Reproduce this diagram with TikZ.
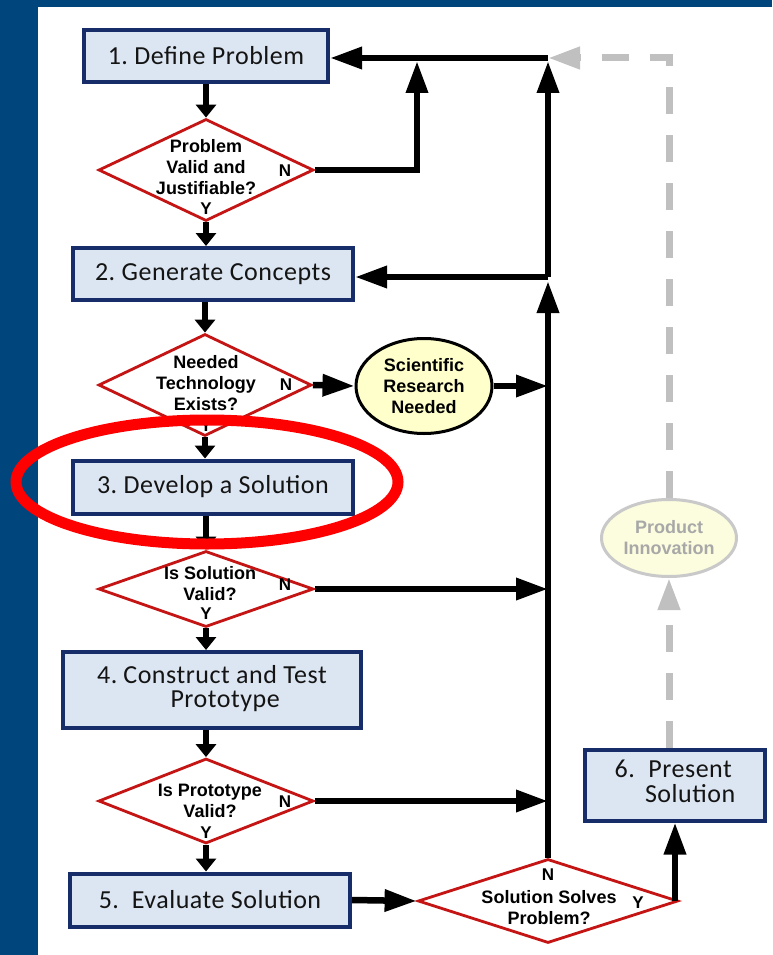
\documentclass[tikz,border=0pt]{standalone}
\usepackage{fontspec}
\setmainfont{Liberation Sans}
\newfontfamily\boxfont[LetterSpace=2]{Carlito}
\usetikzlibrary{shapes.geometric,arrows.meta}

\definecolor{slideblue}{RGB}{0,69,124}
\definecolor{boxfill}{RGB}{220,230,242}
\definecolor{boxline}{RGB}{22,45,105}
\definecolor{dred}{RGB}{196,20,20}
\definecolor{pale}{RGB}{255,255,204}
\definecolor{palefaded}{RGB}{252,252,222}
\definecolor{ghostgray}{RGB}{192,192,192}
\definecolor{ghosttext}{RGB}{168,168,168}

\tikzset{
  stepbox/.style={draw=boxline, fill=boxfill, line width=4pt, inner sep=0pt,
    font=\boxfont\fontsize{26}{24}\selectfont, text=black!92},
  decide/.style={diamond, draw=dred, fill=white, line width=2.8pt, inner sep=0pt},
  dtext/.style={align=center, inner sep=0pt, font=\bfseries\fontsize{18}{21}\selectfont},
  yn/.style={inner sep=0pt, font=\bfseries\fontsize{17}{20}\selectfont},
  flow/.style={line width=6.5pt, -{Triangle[length=32pt,width=21pt]}},
  flowdown/.style={line width=6.5pt, -{Triangle[length=13pt,width=20pt]}},
  ghost/.style={ghostgray, line width=7pt, dash pattern=on 27pt off 21pt,
    -{Triangle[length=32pt,width=21pt]}},
}

\begin{document}
\begin{tikzpicture}[x=1pt,y=-1pt]
  % slide background
  \fill[slideblue] (0,0) rectangle (772,955);
  \fill[white] (38,7) rectangle (772,955);
  \useasboundingbox (0,0) rectangle (772,955);

  % steps
  \node[stepbox, minimum width=244, minimum height=52] (b1) at (206,56) {1.\ Define Problem};
  \node[stepbox, minimum width=280, minimum height=52] (b2) at (213,274) {2.\ Generate Concepts};
  \node[stepbox, minimum width=280, minimum height=53] (b3) at (213,487) {3.\ Develop a Solution};
  \node[stepbox, minimum width=298, minimum height=76] (b4) at (212,690)
    {\begin{tabular}{@{}l@{}c@{}}4.\kern6pt & Construct and Test\\ & Prototype\end{tabular}};
  \node[stepbox, minimum width=280, minimum height=53] (b5) at (210,900) {5.\ \ Evaluate Solution};
  \node[stepbox, minimum width=180, minimum height=71] (b6) at (675,785)
    {\begin{tabular}{@{}l@{}c@{}}6.\kern10pt & Present\\ & Solution\end{tabular}};

  % decisions
  \node[decide, minimum width=215, minimum height=102] (d1) at (206,170) {};
  \node[decide, minimum width=213, minimum height=102] (d2) at (205,385) {};
  \node[decide, minimum width=215, minimum height=76] (d3) at (206,589) {};
  \node[decide, minimum width=215, minimum height=85] (d4) at (206,801) {};
  \node[decide, minimum width=260, minimum height=84] (d5) at (548,901) {};

  \node[dtext] (d1t) at (206,167) {Problem\\Valid and\\Justifiable?};
  \node[dtext] (d2t) at (206,383) {Needed\\Technology\\Exists?};
  \node[dtext] (d3t) at (210,584) {Is Solution\\Valid?};
  \node[dtext] (d4t) at (210,801) {Is Prototype\\Valid?};
  \node[dtext] (d5t) at (549,908) {Solution Solves\\Problem?};

  % N / Y marks
  \node[yn] (d1n) at (285,171) {N};
  \node[yn] (d1y) at (206,209) {Y};
  \node[yn] (d2n) at (286,385) {N};
  \node[yn] (d2y) at (206,426) {Y};
  \node[yn] (d3n) at (285,585) {N};
  \node[yn] (d3y) at (206,614) {Y};
  \node[yn] (d4n) at (285,802) {N};
  \node[yn] (d4y) at (206,833) {Y};
  \node[yn] (d5n) at (548,875) {N};
  \node[yn] (d5y) at (638,903) {Y};

  % ovals
  \node[ellipse, draw=black, fill=pale, line width=3pt, minimum width=136, minimum height=95,
    inner sep=0pt, align=center, font=\bfseries\fontsize{18}{21}\selectfont] (sci) at (424,386)
    {Scientific\\Research\\Needed};
  \node[ellipse, draw=ghostgray!85, fill=palefaded, line width=3pt, minimum width=135, minimum height=77,
    inner sep=0pt, align=center, text=ghosttext, font=\bfseries\fontsize{18}{21}\selectfont] (pi) at (669,538)
    {Product\\Innovation};

  \coordinate (top) at (548,58);
  \coordinate (mid) at (548,277);
  \coordinate (jn) at (417,61);

  % faded path
  \draw[ghost] (pi |- b6.north) -- (pi.south);
  \draw[ghost] (pi.north) |- (top);

  % main column
  \draw[flowdown] (b1.south -| d1.north) -- (d1.north);
  \draw[flowdown] (d1.south) -- (d1.south |- b2.north);
  \draw[flowdown] (b2.south -| d2.north) -- (d2.north);
  \draw[flowdown] (d2.south) -- (d2.south |- b3.north);
  \draw[flowdown] (b3.south -| d3.north) -- (d3.north);
  \draw[flowdown] (d3.south) -- (d3.south |- b4.north);
  \draw[flowdown] (b4.south -| d4.north) -- (d4.north);
  \draw[flowdown] (d4.south) -- (d4.south |- b5.north);

  % loops back
  \draw[flow] (d1.east) -| (jn);
  \draw[flow] (top) -- (top -| b1.east);
  \draw[flow] (mid) -- ([yshift=-3pt]top);
  \draw[flow] (mid) -- (mid -| b2.east);
  \draw[flow] (d5.north) -- ([yshift=-4pt]mid);
  \draw[flow] (d2.east) -- (sci.west);
  \draw[flow] (sci.east) -- (sci.east -| mid);
  \draw[flow] (d3.east) -- (d3.east -| mid);
  \draw[flow] (d4.east) -- (d4.east -| mid);
  \draw[flow] (b5.east) -- (d5.west);
  \draw[flow] (b6.south |- d5.east) -- (b6.south);

  % highlight
  \draw[red, line width=11pt] (207,482) ellipse [x radius=191, y radius=62];
\end{tikzpicture}
\end{document}
